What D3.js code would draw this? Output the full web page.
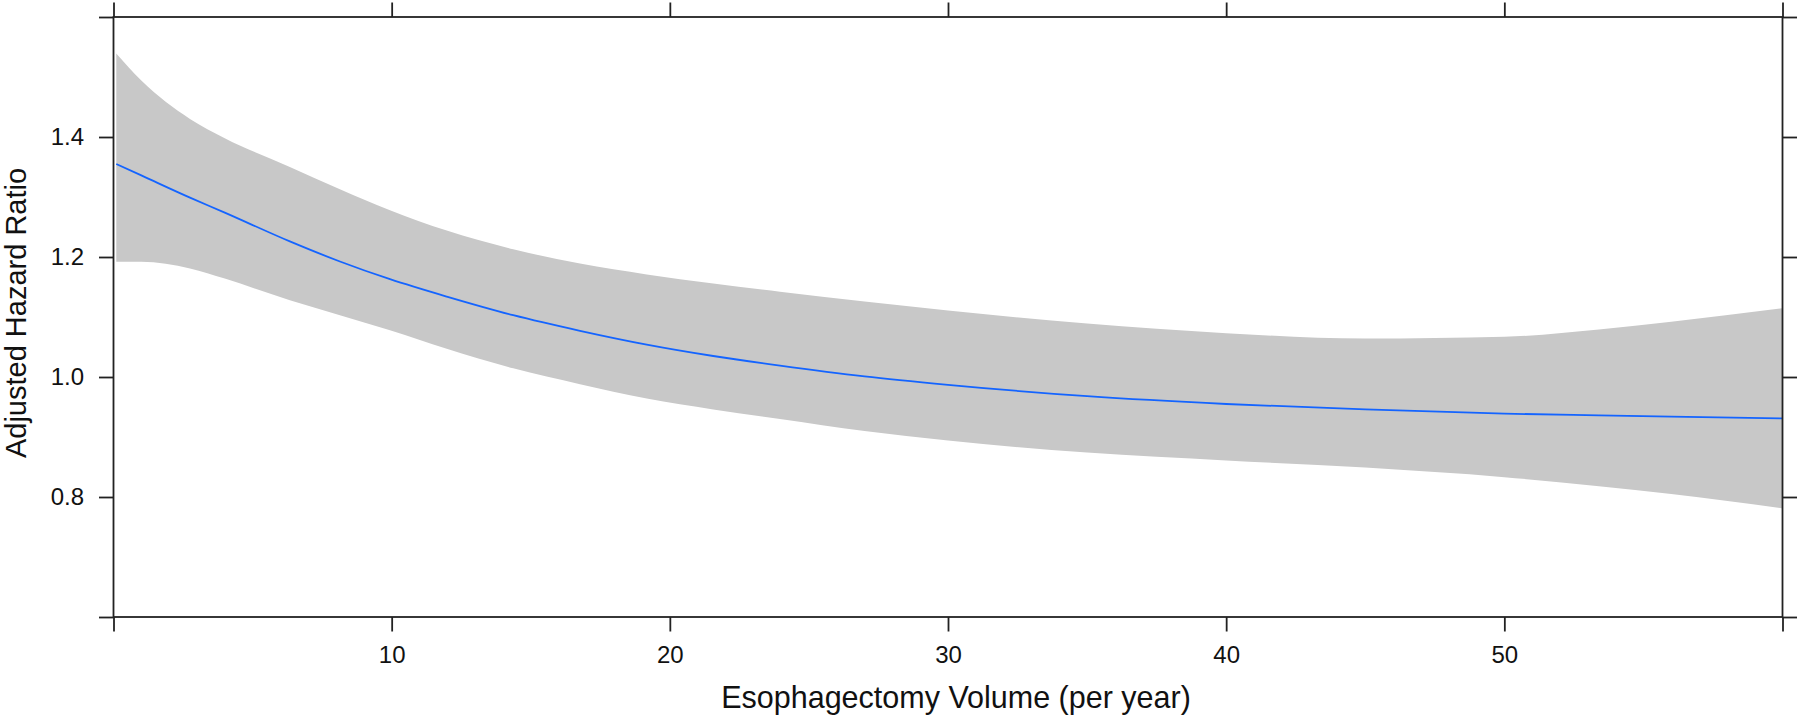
<!DOCTYPE html>
<html>
<head>
<meta charset="utf-8">
<script src="https://cdn.jsdelivr.net/npm/d3@7"></script>
<style>
  html, body { margin: 0; padding: 0; background: #fff; }
  svg { display: block; font-family: "Liberation Sans", Arial, Helvetica, sans-serif; }
</style>
</head>
<body>
<svg id="chart" width="1800" height="721"></svg>
<script>
// ---- data ----
const volume = [0.1, 1, 2.75, 4, 6.34, 8.14, 9.94, 11.98, 14.37, 16.77, 19.17, 21.56, 23.96, 27, 30, 35, 40, 45, 50, 53.4, 56, 60];
const hazardRatio = [1.355, 1.336, 1.299, 1.274, 1.226, 1.1925, 1.163, 1.134, 1.103, 1.077, 1.054, 1.035, 1.019, 1.001, 0.987, 0.968, 0.955, 0.946, 0.939, 0.936, 0.934, 0.931];
const upperCI = [1.539, 1.494, 1.430, 1.398, 1.350, 1.313, 1.278, 1.244, 1.213, 1.189, 1.171, 1.156, 1.142, 1.126, 1.111, 1.089, 1.073, 1.064, 1.067, 1.079, 1.092, 1.1145];
const lowerCI = [1.192, 1.192, 1.181, 1.164, 1.128, 1.103, 1.078, 1.047, 1.0145, 0.988, 0.964, 0.946, 0.930, 0.910, 0.894, 0.874, 0.861, 0.849, 0.833, 0.818, 0.805, 0.781];

const xTicks = [0, 10, 20, 30, 40, 50, 60];
const xTickLabels = ["", "10", "20", "30", "40", "50", ""];
const yTicks = [0.6, 0.8, 1.0, 1.2, 1.4, 1.6];
const yTickLabels = ["", "0.8", "1.0", "1.2", "1.4", ""];
const xTitle = "Esophagectomy Volume (per year)";
const yTitle = "Adjusted Hazard Ratio";

(function () {
  // ---- layout ----
  const svg = d3.select("#chart");
  const pL = 113.5, pR = 1782.5, pT = 17, pB = 617;
  const x = d3.scaleLinear().domain([0, 60]).range([pL, pR]);
  const y = d3.scaleLinear().domain([0.6, 1.6]).range([pB, pT]);

  const rows = volume.map((v, i) => ({ v, hr: hazardRatio[i], lo: lowerCI[i], hi: upperCI[i] }));

  // band
  svg.append("path")
    .datum(rows)
    .attr("fill", "#c8c8c8")
    .attr("stroke", "none")
    .attr("d", d3.area()
      .x(d => x(d.v))
      .y0(d => y(d.lo))
      .y1(d => y(d.hi))
      .curve(d3.curveMonotoneX));

  // line
  svg.append("path")
    .datum(rows)
    .attr("fill", "none")
    .attr("stroke", "#1464ff")
    .attr("stroke-width", 1.8)
    .attr("d", d3.line()
      .x(d => x(d.v))
      .y(d => y(d.hr))
      .curve(d3.curveMonotoneX));

  // axes
  const axisColor = "#222";
  const tickLen = 14.5;
  function style(g) {
    g.select(".domain").remove();
    g.selectAll(".tick line").attr("stroke", axisColor).attr("stroke-width", 1.8);
    g.selectAll(".tick text").attr("fill", "#111").style("font-size", "24px");
  }
  const fmtX = d => xTickLabels[xTicks.indexOf(d)];
  const fmtY = d => yTickLabels[yTicks.findIndex(t => Math.abs(t - d) < 1e-9)];

  svg.append("g").attr("transform", `translate(0,${pB})`)
    .call(d3.axisBottom(x).tickValues(xTicks).tickFormat(fmtX).tickSize(tickLen).tickPadding(14.5))
    .call(style);
  svg.append("g").attr("transform", `translate(0,${pT})`)
    .call(d3.axisTop(x).tickValues(xTicks).tickFormat(() => "").tickSize(tickLen))
    .call(style);
  svg.append("g").attr("transform", `translate(${pL},0)`)
    .call(d3.axisLeft(y).tickValues(yTicks).tickFormat(fmtY).tickSize(tickLen).tickPadding(15))
    .call(style);
  svg.append("g").attr("transform", `translate(${pR},0)`)
    .call(d3.axisRight(y).tickValues(yTicks).tickFormat(() => "").tickSize(tickLen))
    .call(style);

  // box
  svg.append("rect")
    .attr("x", pL).attr("y", pT)
    .attr("width", pR - pL).attr("height", pB - pT)
    .attr("fill", "none").attr("stroke", axisColor).attr("stroke-width", 1.8);

  // titles
  svg.append("text")
    .attr("x", 956).attr("y", 708)
    .attr("text-anchor", "middle")
    .attr("fill", "#111")
    .style("font-size", "30.5px")
    .text(xTitle);
  svg.append("text")
    .attr("transform", `translate(25.5,313) rotate(-90)`)
    .attr("text-anchor", "middle")
    .attr("fill", "#111")
    .style("font-size", "29px")
    .text(yTitle);
})();
</script>
</body>
</html>
